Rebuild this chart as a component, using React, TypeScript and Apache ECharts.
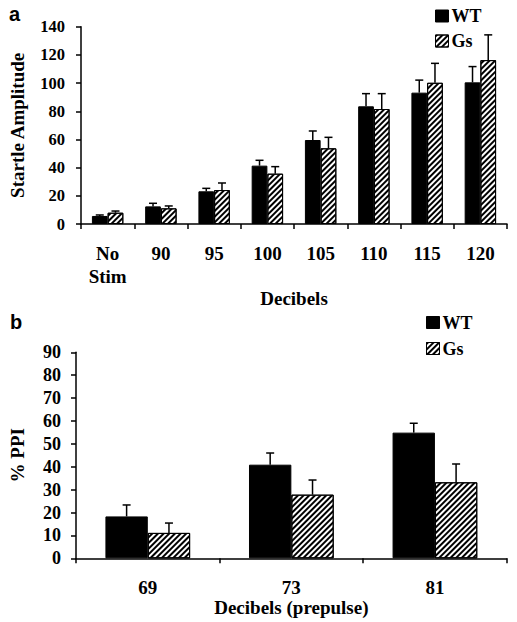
import React, { useEffect, useRef } from "react";
import * as echarts from "echarts";

const catsA = ["No\nStim", "90", "95", "100", "105", "110", "115", "120"];
const wtA = [5.7, 12.5, 23.2, 41.4, 59.6, 83.5, 93.2, 100.5];
const wtErrA = [0.7, 2.2, 2.1, 3.8, 6.4, 9.0, 8.9, 11.2];
const gsA = [8.0, 11.1, 24.1, 35.7, 53.7, 81.6, 100.2, 116.3];
const gsErrA = [1.2, 1.7, 5.0, 5.0, 7.8, 10.9, 13.8, 17.9];
const yTicksA = { min: 0, max: 140, interval: 20 };

const catsB = ["69", "73", "81"];
const wtB = [18.3, 40.9, 54.9];
const wtErrB = [5.0, 5.1, 4.1];
const gsB = [11.1, 27.8, 33.2];
const gsErrB = [4.3, 6.4, 8.0];
const yTicksB = { min: 0, max: 90, interval: 10 };

const SERIF = "'Liberation Serif', 'Times New Roman', serif";
const GAP = 0.41;

const hatch = {
  symbol: "rect",
  symbolSize: 1,
  color: "#000",
  dashArrayX: [1, 0],
  dashArrayY: [1.7, 1.9],
  rotation: -Math.PI / 4,
};

function errSeries(name: string, vals: number[], errs: number[], sign: number, axis: number) {
  return {
    type: "custom",
    name: name + "-err",
    xAxisIndex: axis,
    yAxisIndex: axis,
    z: 10,
    silent: true,
    data: vals.map((v, i) => [i, v, v + errs[i]]),
    renderItem: (params: any, api: any) => {
      const i = api.value(0);
      const base = api.coord([i, api.value(1)]);
      const top = api.coord([i, api.value(2)]);
      const band = api.size([1, 0])[0];
      const x = base[0] + (sign * band * (1 - GAP)) / 4;
      const st = { stroke: "#000", lineWidth: 1.5 };
      return {
        type: "group",
        children: [
          { type: "line", shape: { x1: x, y1: base[1], x2: x, y2: top[1] }, style: st },
          { type: "line", shape: { x1: x - 4, y1: top[1], x2: x + 4, y2: top[1] }, style: st },
        ],
      };
    },
  };
}

export default function App() {
  const ref = useRef<HTMLDivElement>(null);
  useEffect(() => {
    if (!ref.current) return;
    const chart = echarts.init(ref.current, null, { renderer: "svg" });
    const txt = (size: number) => ({ color: "#000", fontFamily: SERIF, fontWeight: "bold", fontSize: size });
    const axisLine = { show: true, lineStyle: { color: "#000", width: 1.5 } };
    const axisTick = { show: true, length: 5, lineStyle: { color: "#000", width: 1.5 } };
    const legendBase = {
      orient: "vertical",
      itemWidth: 13,
      itemHeight: 12,
      padding: 0,
      icon: "rect",
      itemStyle: { borderColor: "#000", borderWidth: 1 },
      textStyle: { ...txt(18), padding: [0, 0, 0, -2] },
      data: ["WT", "Gs"],
      selectedMode: false,
    };
    chart.setOption({
      animation: false,
      backgroundColor: "#fff",
      textStyle: { fontFamily: SERIF },
      legend: [
        { ...legendBase, left: 435, top: 7, itemGap: 7 },
        { ...legendBase, left: 426, top: 313.5, itemGap: 8 },
      ],
      grid: [
        { left: 78, right: 10, top: 26.7, height: 197.3 },
        { left: 70.7, right: 10.3, top: 352.3, height: 206 },
      ],
      xAxis: [
        {
          type: "category",
          gridIndex: 0,
          data: catsA,
          axisLine,
          axisTick,
          axisLabel: { ...txt(19), margin: 18, lineHeight: 23, interval: 0 },
          name: "Decibels",
          nameLocation: "middle",
          nameGap: 48,
          nameTextStyle: txt(19),
        },
        {
          type: "category",
          gridIndex: 1,
          data: catsB,
          axisLine,
          axisTick,
          axisLabel: { ...txt(19), margin: 20, interval: 0 },
          name: "Decibels (prepulse)",
          nameLocation: "middle",
          nameGap: 34,
          nameTextStyle: txt(19),
        },
      ],
      yAxis: [
        {
          type: "value",
          gridIndex: 0,
          ...yTicksA,
          axisLine,
          axisTick,
          splitLine: { show: false },
          axisLabel: { ...txt(16.5), margin: 16 },
          name: "Startle Amplitude",
          nameLocation: "middle",
          nameGap: 54,
          nameTextStyle: txt(19),
        },
        {
          type: "value",
          gridIndex: 1,
          ...yTicksB,
          axisLine,
          axisTick,
          splitLine: { show: false },
          axisLabel: { ...txt(18), margin: 15 },
          name: "% PPI",
          nameLocation: "middle",
          nameGap: 49,
          nameTextStyle: txt(19),
        },
      ],
      series: [
        {
          type: "bar",
          name: "WT",
          xAxisIndex: 0,
          yAxisIndex: 0,
          data: wtA,
          barGap: "0%",
          barCategoryGap: GAP * 100 + "%",
          itemStyle: { color: "#000", borderColor: "#000", borderWidth: 1 },
        },
        {
          type: "bar",
          name: "Gs",
          xAxisIndex: 0,
          yAxisIndex: 0,
          data: gsA,
          barGap: "0%",
          barCategoryGap: GAP * 100 + "%",
          itemStyle: { color: "#fff", borderColor: "#000", borderWidth: 1, decal: hatch },
        },
        {
          type: "bar",
          name: "WT",
          xAxisIndex: 1,
          yAxisIndex: 1,
          data: wtB,
          barGap: "0%",
          barCategoryGap: GAP * 100 + "%",
          itemStyle: { color: "#000", borderColor: "#000", borderWidth: 1 },
        },
        {
          type: "bar",
          name: "Gs",
          xAxisIndex: 1,
          yAxisIndex: 1,
          data: gsB,
          barGap: "0%",
          barCategoryGap: GAP * 100 + "%",
          itemStyle: { color: "#fff", borderColor: "#000", borderWidth: 1, decal: hatch },
        },
        errSeries("WT", wtA, wtErrA, -1, 0),
        errSeries("Gs", gsA, gsErrA, 1, 0),
        errSeries("WT", wtB, wtErrB, -1, 1),
        errSeries("Gs", gsB, gsErrB, 1, 1),
      ],
      graphic: [
        { type: "text", left: 9, top: 4, style: { text: "a", font: "bold 20px 'Liberation Sans', Arial, sans-serif", fill: "#000" } },
        { type: "text", left: 10, top: 312, style: { text: "b", font: "bold 20px 'Liberation Sans', Arial, sans-serif", fill: "#000" } },
      ],
    });
    return () => chart.dispose();
  }, []);
  return <div ref={ref} style={{ position: "fixed", left: 0, top: 0, width: 517, height: 622 }} />;
}
